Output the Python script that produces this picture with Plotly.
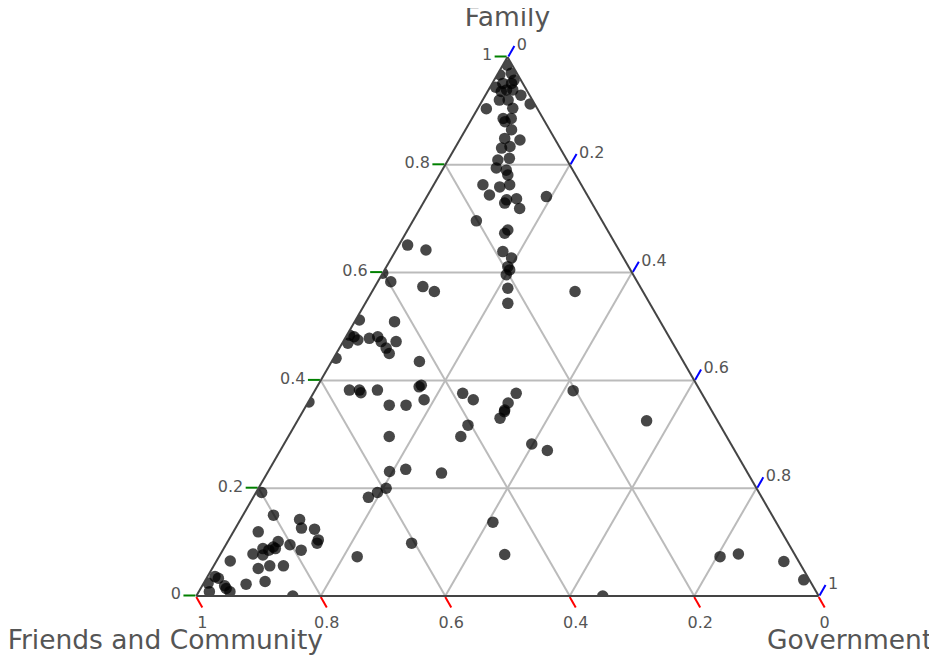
import plotly.graph_objects as go

# Ternary values: Family (a), Friends and Community (b), Government (c)
family = [
    0.967, 0.970, 0.951, 0.951, 0.939, 0.939, 0.936, 0.929, 0.920, 0.920,
    0.913, 0.904, 0.886, 0.886, 0.880, 0.865, 0.849, 0.846, 0.834, 0.831,
    0.812, 0.809, 0.794, 0.790, 0.781, 0.763, 0.759, 0.763, 0.744, 0.735,
    0.737, 0.729, 0.719, 0.741, 0.696, 0.679, 0.673, 0.639, 0.627, 0.611,
    0.605, 0.596, 0.571, 0.543, 0.565, 0.985, 0.957, 0.944, 0.905,
    0.651, 0.642, 0.599, 0.583, 0.574, 0.565, 0.512, 0.509, 0.484, 0.481,
    0.478, 0.481, 0.472, 0.472, 0.469, 0.460, 0.475, 0.450, 0.441, 0.435,
    0.391, 0.388, 0.382, 0.382, 0.377, 0.382, 0.364, 0.354, 0.354, 0.360,
    0.296, 0.231, 0.235, 0.228, 0.200, 0.192, 0.183, 0.098, 0.073,
    0.376, 0.364, 0.376, 0.358, 0.345, 0.342, 0.330, 0.317, 0.296, 0.381,
    0.325, 0.282, 0.270, 0.137, 0.077, 0.000,
    0.073, 0.078, 0.064, 0.030,
    0.192, 0.150, 0.142, 0.126, 0.124, 0.119, 0.104, 0.098, 0.101, 0.095,
    0.091, 0.088, 0.085, 0.088, 0.078, 0.076, 0.085, 0.065, 0.051, 0.056,
    0.056, 0.036, 0.033, 0.019, 0.014, 0.022, 0.027, 0.024, 0.008, 0.008,
    0.000,
]
friends = [
    0.029, 0.009, 0.032, 0.018, 0.032, 0.022, 0.042, 0.014, 0.053, 0.039,
    0.007, 0.082, 0.064, 0.051, 0.064, 0.061, 0.080, 0.057, 0.079, 0.094,
    0.091, 0.111, 0.121, 0.107, 0.109, 0.158, 0.133, 0.115, 0.157, 0.134,
    0.117, 0.140, 0.121, 0.067, 0.202, 0.160, 0.168, 0.188, 0.180, 0.194,
    0.194, 0.204, 0.214, 0.228, 0.109, 0.008, 0.011, 0.047, 0.039,
    0.335, 0.310, 0.401, 0.396, 0.349, 0.335, 0.482, 0.427, 0.512, 0.506,
    0.483, 0.468, 0.467, 0.443, 0.522, 0.465, 0.503, 0.465, 0.555, 0.424,
    0.443, 0.448, 0.563, 0.547, 0.547, 0.518, 0.452, 0.513, 0.486, 0.639,
    0.542, 0.574, 0.546, 0.492, 0.595, 0.613, 0.632, 0.605, 0.705,
    0.384, 0.373, 0.298, 0.320, 0.332, 0.334, 0.347, 0.405, 0.427, 0.204,
    0.114, 0.320, 0.301, 0.455, 0.466, 0.347,
    0.122, 0.090, 0.024, 0.009,
    0.799, 0.801, 0.763, 0.768, 0.748, 0.841, 0.752, 0.757, 0.818, 0.802,
    0.831, 0.829, 0.841, 0.849, 0.870, 0.855, 0.789, 0.913, 0.875, 0.854,
    0.832, 0.952, 0.948, 0.945, 0.945, 0.909, 0.876, 0.969, 0.975, 0.942,
    0.845,
]
government = [
    0.004, 0.021, 0.017, 0.031, 0.029, 0.039, 0.022, 0.057, 0.027, 0.041,
    0.080, 0.014, 0.050, 0.063, 0.056, 0.074, 0.071, 0.097, 0.087, 0.075,
    0.097, 0.080, 0.085, 0.103, 0.110, 0.079, 0.108, 0.122, 0.099, 0.131,
    0.146, 0.131, 0.160, 0.192, 0.102, 0.161, 0.159, 0.173, 0.193, 0.195,
    0.201, 0.200, 0.215, 0.229, 0.326, 0.007, 0.032, 0.009, 0.056,
    0.014, 0.048, 0.000, 0.021, 0.077, 0.100, 0.006, 0.064, 0.004, 0.013,
    0.039, 0.051, 0.061, 0.085, 0.009, 0.075, 0.022, 0.085, 0.004, 0.141,
    0.166, 0.164, 0.055, 0.071, 0.076, 0.100, 0.184, 0.133, 0.160, 0.001,
    0.162, 0.195, 0.219, 0.280, 0.205, 0.195, 0.185, 0.297, 0.222,
    0.240, 0.263, 0.326, 0.322, 0.323, 0.324, 0.323, 0.278, 0.277, 0.415,
    0.561, 0.398, 0.429, 0.408, 0.457, 0.653,
    0.805, 0.832, 0.912, 0.961,
    0.009, 0.049, 0.095, 0.106, 0.128, 0.040, 0.144, 0.145, 0.081, 0.103,
    0.078, 0.083, 0.074, 0.063, 0.052, 0.069, 0.126, 0.022, 0.074, 0.090,
    0.112, 0.012, 0.019, 0.036, 0.041, 0.069, 0.097, 0.007, 0.017, 0.050,
    0.155,
]

FONT = "Verdana, DejaVu Sans, sans-serif"

fig = go.Figure(
    go.Scatterternary(
        a=family,
        b=friends,
        c=government,
        mode="markers",
        marker=dict(size=11.5, color="rgba(0,0,0,0.72)", line=dict(width=0)),
        hoverinfo="skip",
    )
)


def axis(title, tickcolor):
    return dict(
        title=dict(text=title, font=dict(size=26.5, color="#555", family=FONT)),
        tickfont=dict(size=16, color="#555", family=FONT),
        tickmode="linear",
        tick0=0,
        dtick=0.2,
        ticks="outside",
        ticklen=12,
        tickwidth=2,
        tickcolor=tickcolor,
        linecolor="#444",
        linewidth=2,
        gridcolor="#bbbbbb",
        gridwidth=1.5,
        showgrid=True,
    )


fig.update_layout(
    width=937,
    height=657,
    margin=dict(l=188, r=126, t=49, b=69),
    paper_bgcolor="white",
    font=dict(family=FONT, color="#555"),
    showlegend=False,
    ternary=dict(
        sum=1,
        bgcolor="white",
        aaxis=axis("Family", "green"),
        baxis=axis("Friends and Community", "red"),
        caxis=axis("Government", "blue"),
    ),
)

fig.write_html("out.html")
